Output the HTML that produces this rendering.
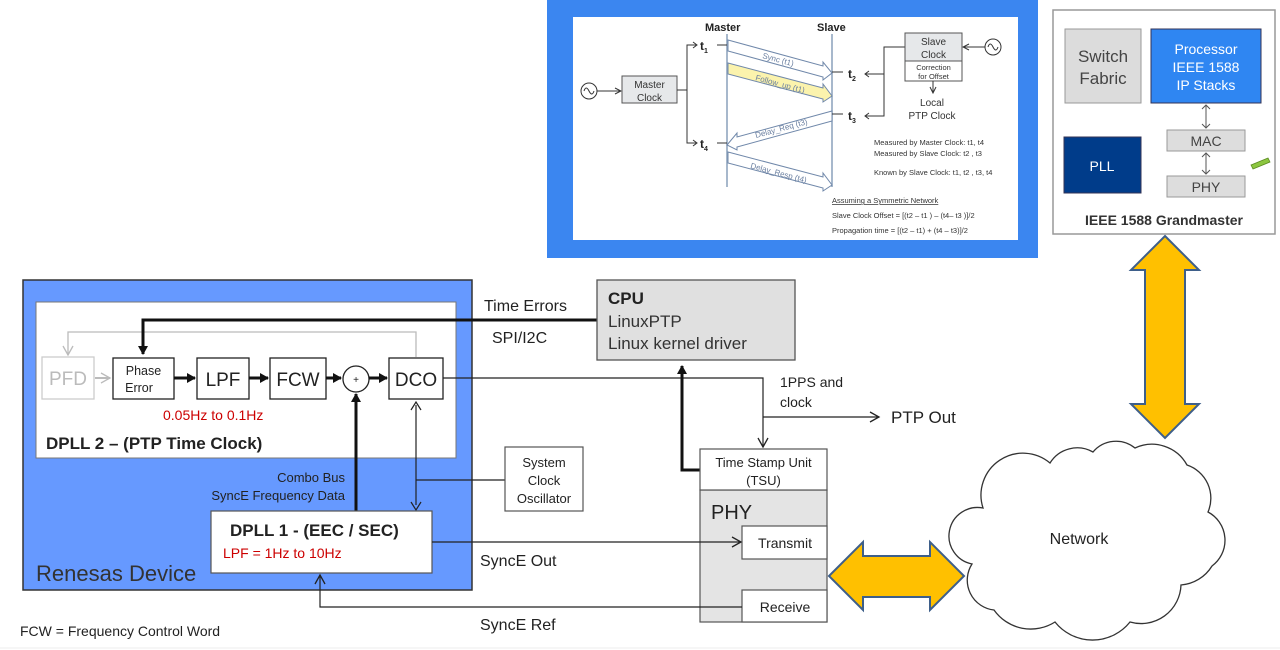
<!DOCTYPE html>
<html><head><meta charset="utf-8"><style>
html,body{margin:0;padding:0;background:#fff;}
svg{display:block;font-family:"Liberation Sans",Arial,sans-serif;}
</style></head><body>
<svg width="1280" height="650" viewBox="0 0 1280 650" xmlns="http://www.w3.org/2000/svg">
<defs>
<marker id="ao" markerWidth="12" markerHeight="12" refX="10" refY="6" orient="auto" markerUnits="userSpaceOnUse"><path d="M1,1 L10,6 L1,11" fill="none" stroke="#222" stroke-width="1.3"/></marker>
<marker id="ab" markerWidth="10" markerHeight="10" refX="8" refY="5" orient="auto" markerUnits="userSpaceOnUse"><path d="M0,0 L9,5 L0,10 z" fill="#111"/></marker>
<marker id="ag" markerWidth="12" markerHeight="12" refX="10" refY="6" orient="auto" markerUnits="userSpaceOnUse"><path d="M1,1 L10,6 L1,11" fill="none" stroke="#bbb" stroke-width="1.3"/></marker>
<marker id="as" markerWidth="8" markerHeight="8" refX="7" refY="4" orient="auto" markerUnits="userSpaceOnUse"><path d="M1,1 L7,4 L1,7" fill="none" stroke="#333" stroke-width="1"/></marker>
</defs>

<!-- Top PTP image -->
<rect x="547" y="0" width="491" height="258" fill="#3b86f0"/>
<rect x="573" y="17" width="445" height="223" fill="#fff"/>
<text x="705" y="31" font-size="11" font-weight="bold" fill="#222">Master</text>
<text x="817" y="31" font-size="11" font-weight="bold" fill="#222">Slave</text>
<line x1="727" y1="34" x2="727" y2="187" stroke="#8aa0bb" stroke-width="1.5"/>
<line x1="832" y1="34" x2="832" y2="187" stroke="#8aa0bb" stroke-width="1.5"/>
<circle cx="589" cy="91" r="8" fill="#fff" stroke="#333"/>
<path d="M584,91 q2,-6 5,0 q3,6 5,0" fill="none" stroke="#333"/>
<line x1="597" y1="91" x2="621" y2="91" stroke="#333" marker-end="url(#as)"/>
<rect x="622" y="76" width="55" height="27" fill="#e6e8ea" stroke="#555"/>
<text x="649.5" y="88" font-size="10" text-anchor="middle" fill="#333">Master</text>
<text x="649.5" y="101" font-size="10" text-anchor="middle" fill="#333">Clock</text>
<path d="M677,90 H687 V45 H696 M687,90 V143 H696" fill="none" stroke="#333"/>
<path d="M693,42 l4,3 l-4,3 M693,140 l4,3 l-4,3" fill="none" stroke="#333"/>
<text x="700" y="50" font-size="12" font-weight="bold" fill="#222">t<tspan font-size="7" dy="3">1</tspan></text>
<text x="700" y="148" font-size="12" font-weight="bold" fill="#222">t<tspan font-size="7" dy="3">4</tspan></text>
<line x1="717" y1="45" x2="727" y2="45" stroke="#333"/>
<line x1="717" y1="143" x2="727" y2="143" stroke="#333"/>
<polygon points="728,40 823,66 823,62 832,73 823,80 823,77 728,51" fill="#fff" stroke="#7088aa"/>
<polygon points="728,63 823,88 823,84 832,96 823,102 823,99 728,74" fill="#fbf3ad" stroke="#7088aa"/>
<polygon points="832,111 737,137 737,133 727,145 737,150 737,147 832,121" fill="#fff" stroke="#7088aa"/>
<polygon points="728,152 823,177 823,173 832,185 823,191 823,188 728,163" fill="#fff" stroke="#7088aa"/>
<text x="762" y="58" font-size="8" fill="#6a7fa0" transform="rotate(15 762 58)">Sync (t1)</text>
<text x="755" y="80" font-size="8" fill="#6a7fa0" transform="rotate(15 755 80)">Follow_up (t1)</text>
<text x="756" y="138" font-size="8" fill="#6a7fa0" transform="rotate(-15 756 138)">Delay_Req (t3)</text>
<text x="750" y="168" font-size="8" fill="#6a7fa0" transform="rotate(15 750 168)">Delay_Resp (t4)</text>
<line x1="832" y1="72" x2="843" y2="72" stroke="#333"/>
<line x1="832" y1="114" x2="843" y2="114" stroke="#333"/>
<text x="848" y="78" font-size="12" font-weight="bold" fill="#222">t<tspan font-size="7" dy="3">2</tspan></text>
<text x="848" y="120" font-size="12" font-weight="bold" fill="#222">t<tspan font-size="7" dy="3">3</tspan></text>
<path d="M905,47 H884 V116 H865 M884,74 H865" fill="none" stroke="#333"/>
<path d="M869,71 l-4,3 l4,3 M869,113 l-4,3 l4,3" fill="none" stroke="#333"/>
<rect x="905" y="33" width="57" height="48" fill="#fff" stroke="#555"/>
<rect x="905" y="33" width="57" height="28" fill="#e6e8ea" stroke="#555"/>
<text x="933.5" y="45" font-size="10" text-anchor="middle" fill="#333">Slave</text>
<text x="933.5" y="58" font-size="10" text-anchor="middle" fill="#333">Clock</text>
<text x="933.5" y="70" font-size="7.5" text-anchor="middle" fill="#333">Correction</text>
<text x="933.5" y="79" font-size="7.5" text-anchor="middle" fill="#333">for Offset</text>
<circle cx="993" cy="47" r="8" fill="#fff" stroke="#333"/>
<path d="M988,47 q2,-6 5,0 q3,6 5,0" fill="none" stroke="#333"/>
<line x1="985" y1="47" x2="963" y2="47" stroke="#333" marker-end="url(#as)"/>
<line x1="933" y1="81" x2="933" y2="93" stroke="#333" marker-end="url(#as)"/>
<text x="932" y="106" font-size="10" text-anchor="middle" fill="#333">Local</text>
<text x="932" y="119" font-size="10" text-anchor="middle" fill="#333">PTP Clock</text>
<g font-size="7.5" fill="#333">
<text x="874" y="145">Measured by Master Clock:  t1,  t4</text>
<text x="874" y="156">Measured by Slave Clock:     t2 , t3</text>
<text x="874" y="175">Known by Slave Clock: t1, t2 , t3, t4</text>
<text x="832" y="203" text-decoration="underline">Assuming a Symmetric Network</text>
<text x="832" y="218">Slave Clock Offset = [(t2 – t1 ) – (t4– t3 )]/2</text>
<text x="832" y="233">Propagation time = [(t2 – t1) + (t4 – t3)]/2</text>
</g>

<!-- Grandmaster -->
<rect x="1053" y="10" width="222" height="224" fill="#fff" stroke="#999" stroke-width="1.5"/>
<rect x="1065" y="29" width="76" height="74" fill="#dcdcdc" stroke="#999"/>
<text x="1103" y="62" font-size="17" text-anchor="middle" fill="#444">Switch</text>
<text x="1103" y="84" font-size="17" text-anchor="middle" fill="#444">Fabric</text>
<rect x="1151" y="29" width="110" height="74" fill="#2f86f2" stroke="#335"/>
<text x="1206" y="54" font-size="14" text-anchor="middle" fill="#fff">Processor</text>
<text x="1206" y="72" font-size="14" text-anchor="middle" fill="#fff">IEEE 1588</text>
<text x="1206" y="90" font-size="14" text-anchor="middle" fill="#fff">IP Stacks</text>
<rect x="1064" y="137" width="77" height="56" fill="#003c8a" stroke="#335"/>
<text x="1102" y="171" font-size="14" text-anchor="middle" fill="#fff">PLL</text>
<rect x="1167" y="130" width="78" height="21" fill="#ddd" stroke="#999"/>
<text x="1206" y="146" font-size="14" text-anchor="middle" fill="#444">MAC</text>
<rect x="1167" y="176" width="78" height="21" fill="#ddd" stroke="#999"/>
<text x="1206" y="192" font-size="14" text-anchor="middle" fill="#444">PHY</text>
<path d="M1206,105 V128 M1202,109 l4,-4 l4,4 M1202,124 l4,4 l4,-4 M1206,153 V174 M1202,157 l4,-4 l4,4 M1202,170 l4,4 l4,-4" fill="none" stroke="#555"/>
<polygon points="1251,165 1268,158 1270,162 1253,169" fill="#8cc63f" stroke="#5a8a20" stroke-width="0.8"/>
<text x="1164" y="225" font-size="14" font-weight="bold" text-anchor="middle" fill="#333">IEEE 1588 Grandmaster</text>

<!-- Vertical yellow arrow -->
<polygon points="1165,236 1199,270 1185,270 1185,404 1199,404 1165,438 1131,404 1145,404 1145,270 1131,270" fill="#ffc000" stroke="#3e5f8a" stroke-width="2"/>

<!-- Renesas -->
<rect x="23" y="280" width="449" height="310" fill="#6699ff" stroke="#333" stroke-width="1.5"/>
<rect x="36" y="302" width="420" height="156" fill="#fff" stroke="#777"/>
<text x="36" y="581" font-size="22" fill="#333">Renesas Device</text>
<!-- gray feedback -->
<path d="M416,357 V332 H68 V355" fill="none" stroke="#bbb" stroke-width="1.3" marker-end="url(#ag)"/>
<rect x="42" y="357" width="52" height="42" fill="#fff" stroke="#ccc" stroke-width="1.3"/>
<text x="68" y="385" font-size="19" text-anchor="middle" fill="#bbb">PFD</text>
<line x1="95" y1="378" x2="110" y2="378" stroke="#bbb" stroke-width="2" marker-end="url(#ag)"/>
<rect x="113" y="358" width="61" height="41" fill="#fff" stroke="#222" stroke-width="1.3"/>
<text x="143.5" y="375" font-size="12.5" text-anchor="middle" fill="#222">Phase</text>
<text x="139" y="392" font-size="12.5" text-anchor="middle" fill="#222">Error</text>
<rect x="197" y="358" width="52" height="41" fill="#fff" stroke="#222" stroke-width="1.3"/>
<text x="223" y="386" font-size="19" text-anchor="middle" fill="#222">LPF</text>
<rect x="270" y="358" width="56" height="41" fill="#fff" stroke="#222" stroke-width="1.3"/>
<text x="298" y="386" font-size="19" text-anchor="middle" fill="#222">FCW</text>
<circle cx="356" cy="379" r="13" fill="#fff" stroke="#222" stroke-width="1.3"/>
<text x="356" y="383" font-size="10" text-anchor="middle" fill="#222">+</text>
<rect x="389" y="358" width="54" height="41" fill="#fff" stroke="#222" stroke-width="1.3"/>
<text x="416" y="386" font-size="19" text-anchor="middle" fill="#222">DCO</text>
<g stroke="#111" stroke-width="3" marker-end="url(#ab)">
<line x1="174" y1="378" x2="195" y2="378"/>
<line x1="249" y1="378" x2="268" y2="378"/>
<line x1="326" y1="378" x2="341" y2="378"/>
<line x1="369" y1="378" x2="387" y2="378"/>
<line x1="356" y1="511" x2="356" y2="394"/>
</g>
<path d="M597,320 H143 V354" fill="none" stroke="#111" stroke-width="3" marker-end="url(#ab)"/>
<text x="163" y="420" font-size="14" fill="#c00">0.05Hz to 0.1Hz</text>
<text x="46" y="449" font-size="17" font-weight="bold" fill="#222">DPLL 2 – (PTP Time Clock)</text>
<text x="345" y="482" font-size="13" text-anchor="end" fill="#222">Combo Bus</text>
<text x="345" y="500" font-size="13" text-anchor="end" fill="#222">SyncE Frequency Data</text>
<!-- DCO bidir -->
<line x1="416" y1="405" x2="416" y2="505" stroke="#222" stroke-width="1.2"/>
<path d="M411,410 l5,-8 l5,8 M411,502 l5,8 l5,-8" fill="none" stroke="#222" stroke-width="1.2"/>
<line x1="416" y1="480" x2="505" y2="480" stroke="#222" stroke-width="1.2"/>
<rect x="211" y="511" width="221" height="62" fill="#fff" stroke="#555" stroke-width="1.2"/>
<text x="230" y="536" font-size="17" font-weight="bold" fill="#222">DPLL 1 - (EEC / SEC)</text>
<text x="223" y="558" font-size="14" fill="#c00">LPF = 1Hz to 10Hz</text>
<rect x="505" y="447" width="78" height="64" fill="#fff" stroke="#555" stroke-width="1.2"/>
<text x="544" y="467" font-size="13" text-anchor="middle" fill="#222">System</text>
<text x="544" y="485" font-size="13" text-anchor="middle" fill="#222">Clock</text>
<text x="544" y="503" font-size="13" text-anchor="middle" fill="#222">Oscillator</text>

<!-- connectors -->
<text x="484" y="311" font-size="16" fill="#222">Time Errors</text>
<text x="492" y="343" font-size="16" fill="#222">SPI/I2C</text>
<path d="M443,378 H763 V447" fill="none" stroke="#222" stroke-width="1.2" marker-end="url(#ao)"/>
<line x1="763" y1="417" x2="879" y2="417" stroke="#222" stroke-width="1.2" marker-end="url(#ao)"/>
<text x="780" y="387" font-size="14" fill="#222">1PPS and</text>
<text x="780" y="407" font-size="14" fill="#222">clock</text>
<text x="891" y="423" font-size="17" fill="#222">PTP Out</text>
<rect x="597" y="280" width="198" height="80" fill="#e0e0e0" stroke="#555" stroke-width="1.3"/>
<text x="608" y="304" font-size="17" font-weight="bold" fill="#222">CPU</text>
<text x="608" y="327" font-size="17" fill="#333">LinuxPTP</text>
<text x="608" y="349" font-size="17" fill="#333">Linux kernel driver</text>
<path d="M700,470 H682 V366" fill="none" stroke="#111" stroke-width="3" marker-end="url(#ab)"/>
<rect x="700" y="490" width="127" height="132" fill="#e4e4e4" stroke="#555" stroke-width="1.2"/>
<rect x="700" y="449" width="127" height="41" fill="#fff" stroke="#555" stroke-width="1.2"/>
<text x="763.5" y="467" font-size="13" text-anchor="middle" fill="#222">Time Stamp Unit</text>
<text x="763.5" y="485" font-size="13" text-anchor="middle" fill="#222">(TSU)</text>
<text x="711" y="519" font-size="20" fill="#222">PHY</text>
<rect x="742" y="526" width="85" height="33" fill="#fff" stroke="#555" stroke-width="1.2"/>
<text x="785" y="548" font-size="14" text-anchor="middle" fill="#222">Transmit</text>
<rect x="742" y="590" width="85" height="32" fill="#fff" stroke="#555" stroke-width="1.2"/>
<text x="785" y="612" font-size="14" text-anchor="middle" fill="#222">Receive</text>
<line x1="432" y1="542" x2="741" y2="542" stroke="#222" stroke-width="1.2" marker-end="url(#ao)"/>
<text x="480" y="566" font-size="16" fill="#222">SyncE Out</text>
<path d="M742,607 H320 V575" fill="none" stroke="#222" stroke-width="1.2" marker-end="url(#ao)"/>
<text x="480" y="630" font-size="16" fill="#222">SyncE Ref</text>
<text x="20" y="636" font-size="14" fill="#222">FCW = Frequency Control Word</text>

<!-- horizontal yellow arrow -->
<polygon points="829,576 863,542 863,556 930,556 930,542 964,576 930,610 930,597 863,597 863,610" fill="#ffc000" stroke="#3e5f8a" stroke-width="2"/>

<!-- cloud -->
<path d="M983,508 A42,42 0 0 1 1050,463 A32,32 0 0 1 1093,452 A30,30 0 0 1 1135,448 A40,40 0 0 1 1187,465 A35,35 0 0 1 1208,512 A32,32 0 0 1 1212,566 A40,40 0 0 1 1181,585 A40,40 0 0 1 1130,622 A48,48 0 0 1 1055,622 A45,45 0 0 1 994,610 A30,30 0 0 1 972,564 A28,28 0 0 1 983,508 Z" fill="#fff" stroke="#333" stroke-width="1.3"/>
<text x="1079" y="544" font-size="16" text-anchor="middle" fill="#222">Network</text>
<line x1="0" y1="648" x2="1280" y2="648" stroke="#eee"/>
</svg>
</body></html>
